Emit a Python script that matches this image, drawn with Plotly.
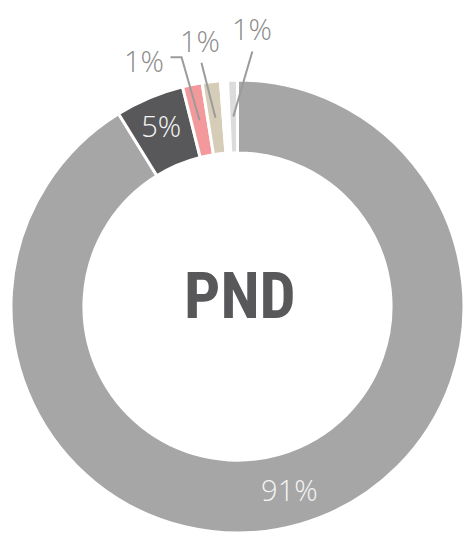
import math
import plotly.graph_objects as go

# slices, clockwise from 12 o'clock
etiquetas = ["A", "B", "C", "D", "E", "F"]
valores = [91.2, 4.9, 1.4, 1.3, 0.5, 0.7]
colores = ["#a6a6a6", "#58585a", "#f4999b", "#d5cdb8", "#ffffff", "#dcdcdc"]
texto_dentro = [True, True, False, False, False, False]
texto_fuera = [False, False, True, True, False, True]
titulo = "PND"

W, H = 464, 536
# pie box in pixels
x0, x1, y0, y1 = 11, 464, 80, 533
cx, cy = (x0 + x1) / 2, (y0 + y1) / 2
R = (x1 - x0) / 2
hueco = 0.678
r_medio = R * (1 + hueco) / 2

total = sum(valores)
pct = [v / total for v in valores]
plantillas = ["%{percent:.0%}" if t else "" for t in texto_dentro]

fig = go.Figure(go.Pie(
    labels=etiquetas, values=valores, sort=False, direction="clockwise", rotation=0,
    hole=hueco,
    marker=dict(colors=colores, line=dict(color="white", width=3)),
    texttemplate=plantillas, textposition="inside", insidetextorientation="horizontal",
    textfont=dict(family="Open Sans", size=29, color="#f4f4f4", weight=300),
    hoverinfo="skip",
    domain=dict(x=[x0 / W, x1 / W], y=[1 - y1 / H, 1 - y0 / H]),
))

def px2paper(x, y):
    return x / W, 1 - y / H

# leader lines + outside labels: (label dx, dy, line start dx, dy, elbow length)
desplaz = [None, None, (-56, -60, -29, -63, 11), (-15, -77, -14, -55, 0), None, (19, -88, 19, -65, 0)]
acum = 0
for i, p in enumerate(pct):
    mid = (acum + p / 2) * 2 * math.pi
    acum += p
    if not texto_fuera[i]:
        continue
    ex = cx + r_medio * math.sin(mid)
    ey = cy - r_medio * math.cos(mid)
    ldx, ldy, sdx, sdy, codo = desplaz[i]
    sx, sy = ex + sdx, ey + sdy
    if codo:
        path = "M {} {} L {} {} L {} {}".format(
            *px2paper(sx, sy), *px2paper(sx + codo, sy), *px2paper(ex, ey))
    else:
        path = "M {} {} L {} {}".format(*px2paper(sx, sy), *px2paper(ex, ey))
    fig.add_shape(type="path", path=path, xref="paper", yref="paper",
                  line=dict(color="#9b9b9b", width=2))
    tx, ty = px2paper(ex + ldx, ey + ldy)
    fig.add_annotation(x=tx, y=ty, xref="paper", yref="paper", showarrow=False,
                       text="{:.0f}%".format(max(1, round(p * 100))),
                       font=dict(family="Open Sans", size=29, color="#8c8c8c", weight=300),
                       xanchor="center", yanchor="middle")

tx, ty = px2paper(cx + 3, cy - 10)
fig.add_annotation(x=tx, y=ty, xref="paper", yref="paper", showarrow=False, text="<b>" + titulo + "</b>",
                   font=dict(family="Roboto Condensed, Roboto", size=64, color="#58585a"),
                   xanchor="center", yanchor="middle")

fig.update_layout(width=W, height=H, margin=dict(l=0, r=0, t=0, b=0),
                  showlegend=False, paper_bgcolor="white", plot_bgcolor="white")
fig.write_html("out.html", config={"displayModeBar": False},
               post_script="document.body.style.margin='0';")
